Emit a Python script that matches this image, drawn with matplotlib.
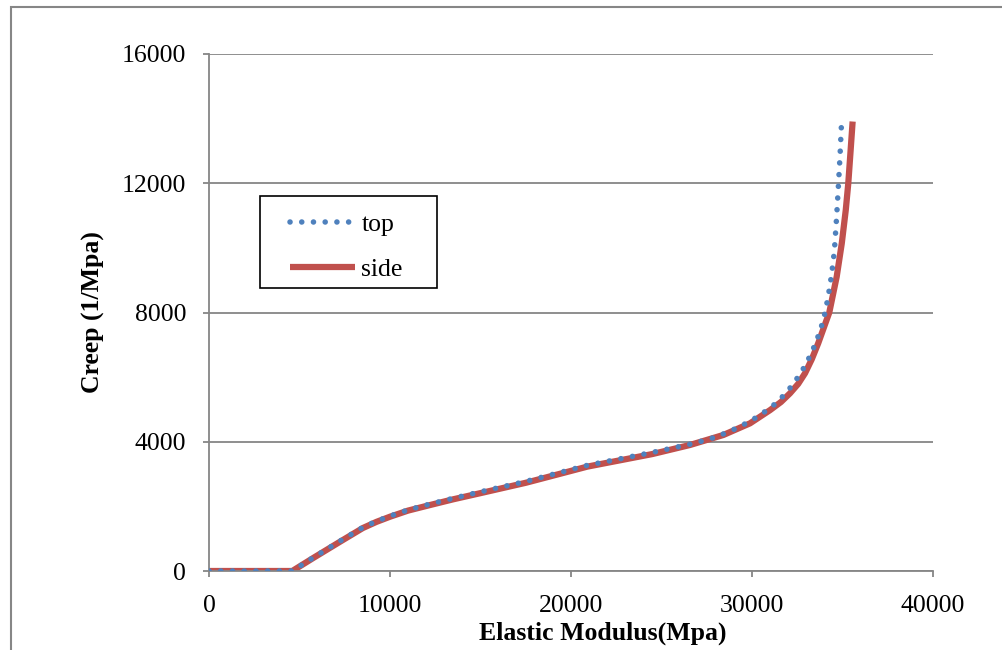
import numpy as np
import matplotlib
matplotlib.use('Agg')
import matplotlib.pyplot as plt
from matplotlib.patches import Rectangle

plt.rcParams['font.family'] = ['Liberation Serif', 'DejaVu Serif']

# Elastic modulus (MPa) vs creep (1/MPa), two measurement positions
side_x = [0, 4600, 5750, 7250, 8500, 9250, 10000, 11000, 12200, 13500, 15000,
          17500, 20900, 24500, 26575, 28420, 29890, 31000, 31600, 32100, 32550,
          32930, 33300, 33660, 34270, 34680, 34960, 35180, 35320, 35450, 35560]
side_y = [0, 0, 400, 910, 1330, 1520, 1680, 1870, 2040, 2220, 2410,
          2730, 3230, 3620, 3900, 4210, 4570, 4980, 5230, 5500, 5790,
          6120, 6550, 7050, 8000, 9110, 10140, 11170, 12000, 13030, 13910]

top_x = [0, 4600, 5750, 7250, 8500, 9250, 10000, 11000, 12200, 13500, 15000,
         17500, 20900, 24500, 26800, 28080, 29280, 30400, 31440, 32280, 32980,
         33530, 33940, 34200, 34400, 34550, 34680, 34790, 34860, 34920, 34950]
top_y = [0, 0, 410, 930, 1350, 1540, 1700, 1890, 2070, 2250, 2450,
         2770, 3270, 3670, 3950, 4160, 4450, 4800, 5240, 5780, 6390,
         7060, 7750, 8460, 9180, 9900, 11000, 12090, 12810, 13550, 13910]

x_ticks = [0, 10000, 20000, 30000, 40000]
y_ticks = [0, 4000, 8000, 12000, 16000]

GRAY = '#868686'

fig = plt.figure(figsize=(10.03, 6.5), dpi=100)
ax = fig.add_axes([209 / 1003, 1 - 571 / 650, 724 / 1003, 517 / 650])

ax.plot(top_x, top_y, color='#4F81BD', lw=4.0, linestyle=(0, (0.01, 2.1)),
        dash_capstyle='round', solid_joinstyle='round', label='top', zorder=3)
ax.plot(side_x, side_y, color='#C0504D', lw=4.5, solid_capstyle='butt',
        solid_joinstyle='round', label='side', zorder=2)

ax.set_xlim(0, 40000)
ax.set_ylim(0, 16000)
ax.set_xticks(x_ticks)
ax.set_yticks(y_ticks)
ax.yaxis.grid(True, color=GRAY, lw=1.3)
ax.set_axisbelow(True)

for s in ['top', 'right']:
    ax.spines[s].set_visible(False)
for s in ['left', 'bottom']:
    ax.spines[s].set_color(GRAY)
    ax.spines[s].set_linewidth(1.3)

ax.tick_params(axis='both', direction='out', length=4.5, width=1.3,
               color=GRAY, labelsize=18.5, labelcolor='black')
ax.tick_params(axis='y', pad=12)
ax.tick_params(axis='x', pad=13)

ax.set_xlabel('Elastic Modulus(Mpa)', fontsize=18.5, fontweight='bold')
ax.set_ylabel('Creep (1/Mpa)', fontsize=18.5, fontweight='bold')
ax.xaxis.set_label_coords(0.544, -0.098)
ax.yaxis.set_label_coords(-0.143, 0.5)

# legend entries without frame, box drawn separately
ax.legend(loc='upper left', bbox_to_anchor=(0.1119, 0.693), fontsize=18.5,
          frameon=False, handlelength=2.53, handletextpad=0.25,
          labelspacing=0.88, borderpad=0, borderaxespad=0)
ax.add_patch(Rectangle((0.0704, 0.5474), 0.2445, 0.1779, transform=ax.transAxes,
                       fill=False, edgecolor='black', lw=1.2, zorder=5))

# outer chart border (left and top edges visible)
fig.add_artist(Rectangle((11 / 1003, -0.2), 1.2, 1.2 - 7 / 650,
                         transform=fig.transFigure, fill=False,
                         edgecolor=GRAY, lw=1.5))

fig.savefig('out.png', dpi=100)
